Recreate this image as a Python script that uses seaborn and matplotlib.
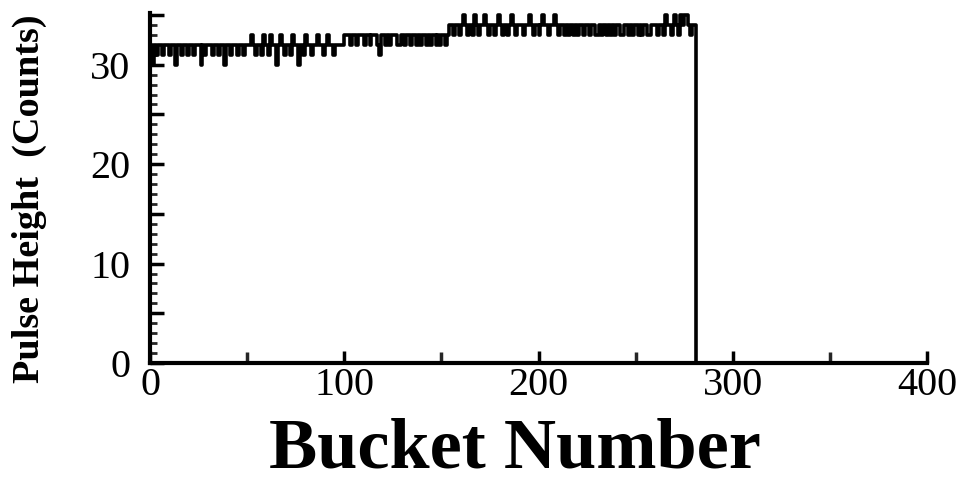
import numpy as np
import pandas as pd
import matplotlib
matplotlib.use("Agg")
import matplotlib.pyplot as plt
import seaborn as sns
from matplotlib.ticker import MultipleLocator, FuncFormatter

# ---- data ----
counts = [
    32,30,32,31,32,32,31,32,32,32,31,32,32,30,32,32,31,32,32,31,
    32,32,31,32,32,32,30,32,31,32,32,32,31,32,32,31,32,32,30,32,
    32,31,32,32,32,31,32,32,31,32,32,32,33,32,31,32,32,31,33,32,
    32,31,33,32,32,30,32,33,32,31,32,32,31,33,32,32,30,32,32,31,
    33,32,32,31,32,32,33,32,32,31,32,33,32,32,31,32,32,32,32,32,
    33,33,33,32,33,33,32,33,33,33,32,33,33,32,33,33,33,32,31,33,
    33,32,33,32,33,33,33,32,32,33,33,32,33,33,32,33,33,32,33,32,
    33,33,32,33,32,33,33,32,33,32,33,33,32,33,34,34,33,34,34,33,
    34,35,34,33,34,34,33,35,34,33,34,34,35,34,33,34,34,33,34,35,
    34,33,34,34,33,34,35,34,33,34,34,34,33,34,34,35,34,33,34,34,
    33,34,35,34,34,33,34,34,35,34,33,34,34,33,34,33,34,34,33,34,
    33,34,34,33,34,34,33,34,34,33,33,34,33,34,34,33,34,33,34,33,
    34,34,33,33,34,34,33,34,33,34,34,33,34,33,34,34,33,33,34,34,
    34,33,34,34,33,35,34,34,33,34,35,34,33,35,34,35,35,34,33,34,
    34,
]
buckets = list(range(len(counts)))
xticks = [0, 100, 200, 300, 400]
yticks_labeled = [0, 10, 20, 30]
xlabel = "Bucket Number"
ylabel = "Pulse Height  (Counts)"

df = pd.DataFrame({"bucket": buckets + [len(counts)], "count": counts + [0]})

sns.set_theme(style="ticks")
plt.rcParams["font.family"] = ["Liberation Serif", "DejaVu Serif"]
plt.rcParams["text.color"] = "black"
plt.rcParams["axes.labelcolor"] = "black"

fig = plt.figure(figsize=(9.59, 4.82), dpi=100)
ax = fig.add_axes([150/959, 1 - 363/482, 777/959, 350/482])

sns.lineplot(data=df, x="bucket", y="count", ax=ax, color="black",
             linewidth=2.6, drawstyle="steps-post", estimator=None)

ax.set_xlim(0, 400)
ax.set_ylim(0, 35.2)
ax.set_xticks(xticks)
ax.xaxis.set_minor_locator(MultipleLocator(50))
ax.yaxis.set_major_locator(MultipleLocator(5))
ax.yaxis.set_minor_locator(MultipleLocator(1))
ax.yaxis.set_major_formatter(FuncFormatter(
    lambda v, p: f"{int(round(v))}" if int(round(v)) in yticks_labeled else ""))

for s in ["top", "right"]:
    ax.spines[s].set_visible(False)
for s in ["left", "bottom"]:
    ax.spines[s].set_linewidth(3)
    ax.spines[s].set_color("black")

ax.tick_params(axis="x", which="major", direction="in", length=9, width=2.5,
               labelsize=29, pad=3, colors="black")
ax.tick_params(axis="x", which="minor", direction="in", length=8, width=2.5)
ax.tick_params(axis="y", which="major", direction="in", length=10, width=2.5,
               labelsize=29, pad=14, colors="black")
ax.tick_params(axis="y", which="minor", direction="in", length=5, width=2)

ax.set_xlabel(xlabel, fontsize=52, fontweight="bold")
ax.xaxis.label.set_verticalalignment("baseline")
ax.xaxis.set_label_coords(0.47, -(468 - 363) / 350, transform=ax.transAxes)
ax.set_ylabel(ylabel, fontsize=27.5, fontweight="bold")
ax.yaxis.label.set_horizontalalignment("center")
ax.yaxis.label.set_verticalalignment("center")
ax.yaxis.set_label_coords(-0.155, 0.47)
ax.grid(False)

fig.savefig("out.png", dpi=100)
